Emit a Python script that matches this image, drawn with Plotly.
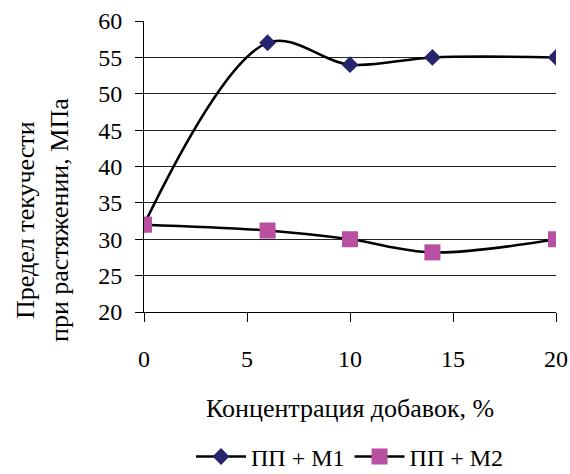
import plotly.graph_objects as go

x_vals = [0, 6, 10, 14, 20]
m1_vals = [32, 57, 54, 55, 55]
m2_vals = [32, 31.2, 30, 28.2, 30]
names = ["ПП + М1", "ПП + М2"]
x_ticks = [0, 5, 10, 15, 20]
y_ticks = [20, 25, 30, 35, 40, 45, 50, 55, 60]

FONT = "Liberation Serif"

fig = go.Figure()
fig.add_trace(go.Scatter(
    x=x_vals, y=m1_vals, name=names[0], mode="lines+markers",
    line=dict(color="black", width=2.5, shape="spline", smoothing=1.0),
    marker=dict(symbol="diamond", size=13, color="#25256E"),
))
fig.add_trace(go.Scatter(
    x=x_vals, y=m2_vals, name=names[1], mode="lines+markers",
    line=dict(color="black", width=2.5, shape="spline", smoothing=1.0),
    marker=dict(symbol="square", size=16, color="#B84FA0"),
))

fig.update_layout(
    width=570, height=474,
    margin=dict(l=144, r=14, t=21, b=162, autoexpand=False),
    paper_bgcolor="white", plot_bgcolor="white",
    font=dict(family=FONT, size=24, color="black"),
    showlegend=True,
    legend=dict(orientation="h", x=0.5, xanchor="center", xref="paper",
                y=0.036, yanchor="middle", yref="container",
                font=dict(size=24), itemwidth=50, bgcolor="rgba(0,0,0,0)"),
    xaxis=dict(range=[0, 20], tickvals=x_ticks, showgrid=False, zeroline=False,
               showline=True, linecolor="black", linewidth=1,
               ticks="outside", ticklen=9, tickcolor="black",
               ticklabelstandoff=16, tickfont=dict(size=24)),
    yaxis=dict(range=[20, 60], tickvals=y_ticks, showgrid=True, gridcolor="#222",
               gridwidth=1, zeroline=False, showline=True, linecolor="black",
               linewidth=1, ticks="outside", ticklen=8, tickcolor="black",
               ticklabelstandoff=8, tickfont=dict(size=24)),
    annotations=[
        dict(text="Концентрация добавок, %", x=0.5, y=-0.33, xref="paper", yref="paper",
             xanchor="center", yanchor="middle", showarrow=False, font=dict(size=26)),
        dict(text="Предел текучести<br>при растяжении, МПа", x=-0.2476, y=0.316,
             xref="paper", yref="paper", xanchor="center", yanchor="middle",
             textangle=-90, showarrow=False, font=dict(size=26)),
    ],
)

fig.write_html("out.html")
